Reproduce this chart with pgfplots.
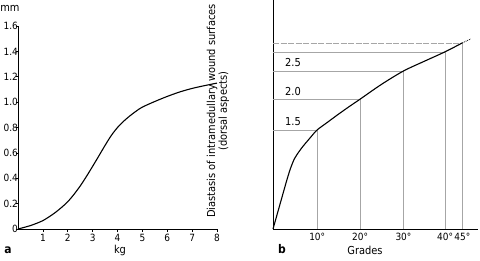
\documentclass[border=0pt]{standalone}
\usepackage{pgfplots}
\pgfplotsset{compat=1.18}
\usepackage{fontspec}
\setmainfont{DejaVu Sans Condensed}
\begin{document}
\fontsize{11}{12}\selectfont
\begin{tikzpicture}[x=1bp,y=1bp]
\path[use as bounding box] (0,0) rectangle (480,260);
\begin{axis}[
  at={(18bp,31bp)}, anchor=south west,
  scale only axis, width=199bp, height=203bp,
  xmin=0, xmax=8, ymin=0, ymax=1.6,
  axis lines*=left,
  axis line style={line width=0.7bp},
  every tick/.style={line width=0.6bp, black},
  tick align=outside, major tick length=2.5bp,
  xtick={1,2,3,4,5,6,7,8},
  xticklabels={1,2,3,4,5,6,7,8},
  ytick={0,0.2,0.4,0.6,0.8,1.0,1.2,1.4,1.6},
  yticklabels={0,0.2,0.4,0.6,0.8,1.0,1.2,1.4,1.6},
  tick label style={font=\fontsize{10}{12}\selectfont},
  xticklabel style={yshift=1bp},
  yticklabel style={xshift=3bp, inner xsep=0.5bp},
  clip=false,
]
\addplot[black, line width=1.1bp, smooth] coordinates {
(0,0) (0.25,0.013) (0.5,0.027) (0.75,0.045) (1,0.066) (1.25,0.096) (1.5,0.13) (1.75,0.17) (2,0.215) (2.25,0.273) (2.5,0.339) (2.75,0.414) (3,0.494) (3.25,0.576) (3.5,0.659) (3.75,0.737) (4,0.80) (4.25,0.85) (4.5,0.892) (4.75,0.929) (5,0.961) (5.5,1.005) (6,1.045) (6.5,1.08) (7,1.108) (7.5,1.13) (8,1.15)};
\end{axis}
\begin{axis}[
  at={(273bp,31bp)}, anchor=south west,
  scale only axis, width=205bp, height=229bp,
  xmin=0, xmax=47.3, ymin=0, ymax=3.58,
  axis lines*=left,
  axis line style={line width=0.7bp},
  ytick=\empty,
  xtick={10.2,20.1,30.1,39.7,43.7},
  xticklabels={10°,20°,30°,40°,45°},
  major tick length=0pt,
  tick label style={font=\fontsize{10}{12}\selectfont},
  xticklabel style={yshift=-0.5bp},
  clip=false,
]
\addplot[gray!70, line width=0.4bp] coordinates {(0,1.55) (10.2,1.55) (10.2,0)};
\addplot[gray!70, line width=0.4bp] coordinates {(0,2.03) (20.1,2.03) (20.1,0)};
\addplot[gray!70, line width=0.4bp] coordinates {(0,2.47) (30.1,2.47) (30.1,0)};
\addplot[gray!70, line width=0.4bp] coordinates {(0,2.77) (39.7,2.77) (39.7,0)};
\addplot[gray!70, line width=0.4bp, dash pattern=on 6bp off 1.5bp] coordinates {(0,2.91) (43.7,2.91)};
\addplot[gray!70, line width=0.4bp] coordinates {(43.7,2.91) (43.7,0)};
\addplot[black, line width=1.1bp, smooth] coordinates {
(0,0) (1,0.24) (2,0.48) (3,0.72) (3.5,0.835) (4,0.94) (4.5,1.03) (5,1.105) (6,1.21) (7,1.30) (8,1.38) (9,1.46) (10.2,1.55) (12.5,1.665) (15,1.79) (17.5,1.91) (20.1,2.03) (25,2.26) (30.1,2.47) (35,2.625) (39.7,2.77) (43.7,2.91)};
\addplot[black, line width=0.8bp, densely dotted] coordinates {(43.7,2.91) (45.6,2.97)};
\node[anchor=south] at (axis cs:4.6,1.55) {1.5};
\node[anchor=south] at (axis cs:4.6,2.03) {2.0};
\node[anchor=south] at (axis cs:4.6,2.47) {2.5};
\end{axis}
\node[anchor=center] at (10,252) {mm};
\node[anchor=center, font=\bfseries\fontsize{12}{13}\selectfont] at (8,10) {a};
\node[anchor=center] at (120,10) {kg};
\node[anchor=center, font=\bfseries\fontsize{12}{13}\selectfont] at (282,11) {b};
\node[anchor=center] at (365,10) {Grades};
\node[rotate=90, align=center, anchor=center, inner sep=0pt, font=\fontsize{11}{10}\selectfont] at (218,149) {Diastasis of intramedullary wound surfaces\\(dorsal aspects)};
\end{tikzpicture}
\end{document}
